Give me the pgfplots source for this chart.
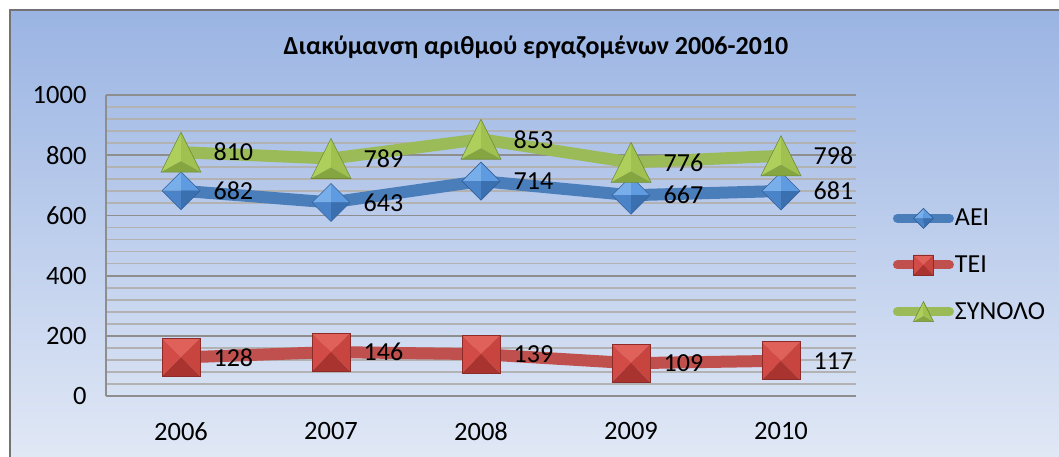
\documentclass[border=0pt]{standalone}
\usepackage{fontspec}
\setmainfont{Carlito}
\usepackage{pgfplots}
\pgfplotsset{compat=1.18}
\definecolor{bgtop}{HTML}{9AB4E3}
\definecolor{bgbot}{HTML}{E2E9F6}
\definecolor{aeiline}{RGB}{74,126,187}
\definecolor{teiline}{RGB}{192,80,77}
\definecolor{synline}{RGB}{155,187,89}
\definecolor{majgrid}{HTML}{8E8E8E}
\definecolor{mingrid}{HTML}{B2B2B2}
% bevelled marks
\pgfdeclareplotmark{bdiamond}{%
  \pgfsetlinewidth{0.6pt}%
  \pgfsetfillcolor{aeitl}%
  \pgfpathmoveto{\pgfqpoint{0pt}{\pgfplotmarksize}}\pgfpathlineto{\pgfqpoint{-\pgfplotmarksize}{0pt}}\pgfpathlineto{\pgfqpoint{0pt}{0pt}}\pgfpathclose\pgfusepath{fill}%
  \pgfsetfillcolor{aeitr}%
  \pgfpathmoveto{\pgfqpoint{0pt}{\pgfplotmarksize}}\pgfpathlineto{\pgfqpoint{\pgfplotmarksize}{0pt}}\pgfpathlineto{\pgfqpoint{0pt}{0pt}}\pgfpathclose\pgfusepath{fill}%
  \pgfsetfillcolor{aeibl}%
  \pgfpathmoveto{\pgfqpoint{0pt}{-\pgfplotmarksize}}\pgfpathlineto{\pgfqpoint{-\pgfplotmarksize}{0pt}}\pgfpathlineto{\pgfqpoint{0pt}{0pt}}\pgfpathclose\pgfusepath{fill}%
  \pgfsetfillcolor{aeibr}%
  \pgfpathmoveto{\pgfqpoint{0pt}{-\pgfplotmarksize}}\pgfpathlineto{\pgfqpoint{\pgfplotmarksize}{0pt}}\pgfpathlineto{\pgfqpoint{0pt}{0pt}}\pgfpathclose\pgfusepath{fill}%
  \pgfsetstrokecolor{aeiedge}%
  \pgfpathmoveto{\pgfqpoint{0pt}{\pgfplotmarksize}}\pgfpathlineto{\pgfqpoint{\pgfplotmarksize}{0pt}}\pgfpathlineto{\pgfqpoint{0pt}{-\pgfplotmarksize}}\pgfpathlineto{\pgfqpoint{-\pgfplotmarksize}{0pt}}\pgfpathclose\pgfusepath{stroke}%
}
\pgfdeclareplotmark{bsquare}{%
  \pgfsetlinewidth{0.6pt}%
  \pgfsetfillcolor{teit}%
  \pgfpathmoveto{\pgfqpoint{-\pgfplotmarksize}{\pgfplotmarksize}}\pgfpathlineto{\pgfqpoint{\pgfplotmarksize}{\pgfplotmarksize}}\pgfpathlineto{\pgfqpoint{0pt}{0pt}}\pgfpathclose\pgfusepath{fill}%
  \pgfsetfillcolor{teil}%
  \pgfpathmoveto{\pgfqpoint{-\pgfplotmarksize}{\pgfplotmarksize}}\pgfpathlineto{\pgfqpoint{-\pgfplotmarksize}{-\pgfplotmarksize}}\pgfpathlineto{\pgfqpoint{0pt}{0pt}}\pgfpathclose\pgfusepath{fill}%
  \pgfsetfillcolor{teir}%
  \pgfpathmoveto{\pgfqpoint{\pgfplotmarksize}{\pgfplotmarksize}}\pgfpathlineto{\pgfqpoint{\pgfplotmarksize}{-\pgfplotmarksize}}\pgfpathlineto{\pgfqpoint{0pt}{0pt}}\pgfpathclose\pgfusepath{fill}%
  \pgfsetfillcolor{teib}%
  \pgfpathmoveto{\pgfqpoint{-\pgfplotmarksize}{-\pgfplotmarksize}}\pgfpathlineto{\pgfqpoint{\pgfplotmarksize}{-\pgfplotmarksize}}\pgfpathlineto{\pgfqpoint{0pt}{0pt}}\pgfpathclose\pgfusepath{fill}%
  \pgfsetstrokecolor{teiedge}%
  \pgfpathrectanglecorners{\pgfqpoint{-\pgfplotmarksize}{-\pgfplotmarksize}}{\pgfqpoint{\pgfplotmarksize}{\pgfplotmarksize}}\pgfusepath{stroke}%
}
\pgfdeclareplotmark{btriangle}{%
  \pgfsetlinewidth{0.6pt}%
  \pgfsetfillcolor{synl}%
  \pgfpathmoveto{\pgfqpoint{0pt}{\pgfplotmarksize}}\pgfpathlineto{\pgfqpoint{-\pgfplotmarksize}{-\pgfplotmarksize}}\pgfpathlineto{\pgfqpoint{0pt}{-0.45\pgfplotmarksize}}\pgfpathclose\pgfusepath{fill}%
  \pgfsetfillcolor{synr}%
  \pgfpathmoveto{\pgfqpoint{0pt}{\pgfplotmarksize}}\pgfpathlineto{\pgfqpoint{\pgfplotmarksize}{-\pgfplotmarksize}}\pgfpathlineto{\pgfqpoint{0pt}{-0.45\pgfplotmarksize}}\pgfpathclose\pgfusepath{fill}%
  \pgfsetfillcolor{synb}%
  \pgfpathmoveto{\pgfqpoint{-\pgfplotmarksize}{-\pgfplotmarksize}}\pgfpathlineto{\pgfqpoint{\pgfplotmarksize}{-\pgfplotmarksize}}\pgfpathlineto{\pgfqpoint{0pt}{-0.45\pgfplotmarksize}}\pgfpathclose\pgfusepath{fill}%
  \pgfsetstrokecolor{synedge}%
  \pgfpathmoveto{\pgfqpoint{0pt}{\pgfplotmarksize}}\pgfpathlineto{\pgfqpoint{\pgfplotmarksize}{-\pgfplotmarksize}}\pgfpathlineto{\pgfqpoint{-\pgfplotmarksize}{-\pgfplotmarksize}}\pgfpathclose\pgfusepath{stroke}%
}
\definecolor{aeitl}{HTML}{78AFEA}
\definecolor{aeitr}{HTML}{5F9BE0}
\definecolor{aeibl}{HTML}{4A83C8}
\definecolor{aeibr}{HTML}{3A6FB0}
\definecolor{aeiedge}{HTML}{34609A}
\definecolor{teit}{HTML}{E0605A}
\definecolor{teil}{HTML}{D24B46}
\definecolor{teir}{HTML}{C8443F}
\definecolor{teib}{HTML}{A8332F}
\definecolor{teiedge}{HTML}{8E2A27}
\definecolor{synl}{HTML}{AFCF5C}
\definecolor{synr}{HTML}{A0C150}
\definecolor{synb}{HTML}{84A540}
\definecolor{synedge}{HTML}{6E8C36}
\begin{document}
\begin{tikzpicture}
\path[use as bounding box] (0,0) rectangle (1059pt,456pt);
\clip (0,0) rectangle (1059pt,456pt);
\fill[white] (0,0) rectangle (1059pt,456pt);
\shade[top color=bgtop, bottom color=bgbot] (10pt,-10pt) rectangle (1070pt,446pt);
\draw[gray!90!black, line width=2.5pt] (10pt,-10pt) -- (10pt,446pt) -- (1070pt,446pt);
\node[font=\fontsize{26}{30}\selectfont\bfseries] at (536pt,409pt) {Διακύμανση αριθμού εργαζομένων 2006-2010};
\begin{axis}[
  at={(106pt,60pt)}, anchor=south west,
  scale only axis, width=750pt, height=301pt,
  xmin=-0.5, xmax=4.5, ymin=0, ymax=1000,
  xtick={0,1,2,3,4}, xticklabels={2006,2007,2008,2009,2010},
  ytick={0,200,...,1000}, minor y tick num=4,
  ymajorgrids, yminorgrids,
  major grid style={draw=majgrid, line width=1.8pt},
  minor grid style={draw=mingrid, line width=1.8pt},
  axis lines*=left,
  axis line style={-, draw=majgrid, line width=1.8pt},
  major tick length=0pt, minor tick length=0pt,
  tick style={draw=none},
  /pgf/number format/assume math mode=true,
  /pgf/number format/1000 sep={},
  ticklabel style={font=\fontsize{26.5}{30}\selectfont},
  yticklabel style={xshift=-16pt},
  xticklabel style={yshift=-23pt},
  clip=false,
  nodes near coords,
  nodes near coords style={anchor=west, xshift=29pt, font=\fontsize{26}{30}\selectfont, text=black,
     /pgf/number format/assume math mode=true},
  legend style={at={(1.049,0.625)}, anchor=north west, draw=none, fill=none,
     font=\fontsize{26}{30}\selectfont, row sep=26pt, inner sep=0pt,
     nodes={inner sep=1pt}},
  legend cell align=left,
  legend image code/.code={%
    \draw[#1, line width=9pt, line cap=round] (4pt,0pt) -- (56pt,0pt);
    \draw[#1, mark size=10pt] plot coordinates {(30pt,0pt)};
  },
]
\addplot[aeiline, line width=12pt, mark=bdiamond, mark size=19pt] coordinates {(0,682) (1,643) (2,714) (3,667) (4,681)};
\addlegendentry{ΑΕΙ}
\addplot[teiline, line width=12pt, mark=bsquare, mark size=19pt] coordinates {(0,128) (1,146) (2,139) (3,109) (4,117)};
\addlegendentry{ΤΕΙ}
\addplot[synline, line width=12pt, mark=btriangle, mark size=20pt] coordinates {(0,810) (1,789) (2,853) (3,776) (4,798)};
\addlegendentry{ΣΥΝΟΛΟ}
\end{axis}
\end{tikzpicture}
\end{document}
